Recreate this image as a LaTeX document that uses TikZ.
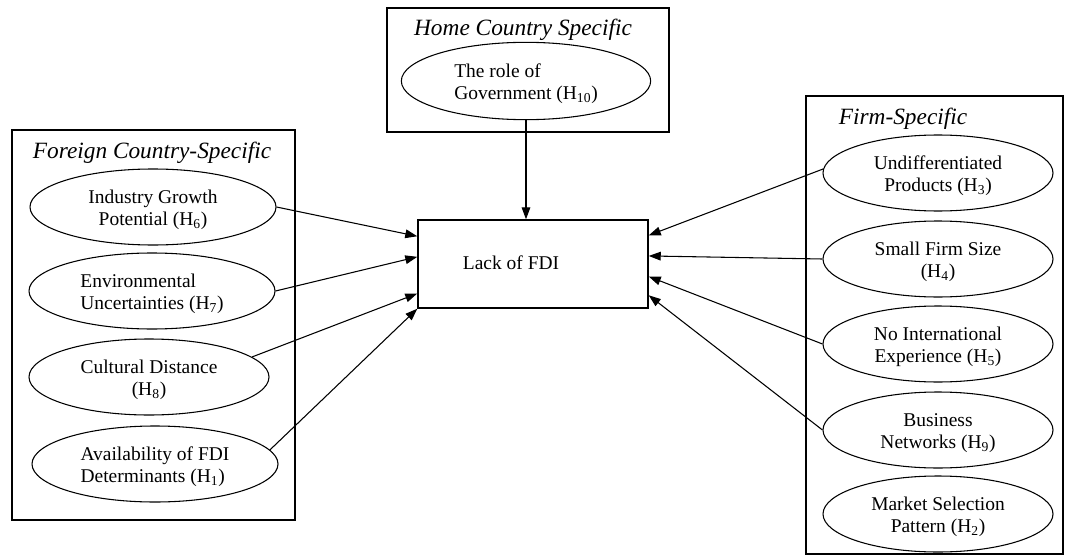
\documentclass[tikz,border=0pt]{standalone}
\usepackage{fontspec}
\setmainfont{Liberation Serif}
\usetikzlibrary{shapes.geometric,arrows.meta,calc}
\begin{document}
\begin{tikzpicture}[x=0.75pt,y=-0.75pt,
  group/.style={draw,line width=1.1pt,inner sep=0pt},
  factor/.style={draw,ellipse,line width=0.8pt,inner sep=0pt,align=center,
    minimum width=184.5pt,minimum height=57pt,
    font=\fontsize{14.6}{16.5}\selectfont,
    execute at begin node={\rule{0pt}{31pt}}},
  rfactor/.style={factor,minimum width=172.5pt},
  heading/.style={font=\fontsize{17.5}{20}\selectfont\itshape,inner sep=0pt},
  link/.style={line width=0.8pt,-{Triangle[length=9pt,width=6.5pt]}}]
\useasboundingbox (0,0) rectangle (1066,556);

% group frames
\node[group,minimum width=211.5pt,minimum height=93pt] (homebox) at (528,70) {};
\node[group,minimum width=212.25pt,minimum height=292.5pt] (foreignbox) at (153.5,325) {};
\node[group,minimum width=192.75pt,minimum height=343.5pt] (firmbox) at (934.5,325) {};

% group headings
\node[heading] (homehead) at (523,30) {Home Country Specific};
\node[heading] (foreignhead) at (152,153) {Foreign Country-Specific};
\node[heading] (firmhead) at (903,119) {Firm-Specific};

% central construct
\node[group,minimum width=172.5pt,minimum height=66pt] (fdi) at (533,264) {};
\node[font=\fontsize{14.6}{16.5}\selectfont] (fdilabel) at (511,263) {Lack of FDI};

% home country factor
\node[factor,align=left,minimum width=187pt,minimum height=58pt] (gov) at (526,81)
  {The role of\\Government (H\textsubscript{10})};

% foreign country factors
\node[factor] (l1) at (153,207) {Industry Growth\\Potential (H\textsubscript{6})};
\node[factor,align=left] (l2) at (152,291) {Environmental\\Uncertainties (H\textsubscript{7})};
\node[factor,minimum width=180pt] (l3) at (149,377) {Cultural Distance\\(H\textsubscript{8})};
\node[factor,align=left] (l4) at (155,464) {Availability of FDI\\Determinants (H\textsubscript{1})};

% firm-specific factors
\node[rfactor] (r1) at (938,173) {Undifferentiated\\Products (H\textsubscript{3})};
\node[rfactor] (r2) at (938,259) {Small Firm Size\\(H\textsubscript{4})};
\node[rfactor] (r3) at (938,344) {No International\\Experience (H\textsubscript{5})};
\node[rfactor] (r4) at (938,430) {Business\\Networks (H\textsubscript{9})};
\node[rfactor] (r5) at (938,514) {Market Selection\\Pattern (H\textsubscript{2})};

% influences on the central construct
\draw[link] (gov.south) -- (gov.south |- fdi.north);

\draw[link] (l1.east) -- ($(fdi.north west)!0.19!(fdi.south west)$);
\draw[link] (l2.east) -- ($(fdi.north west)!0.42!(fdi.south west)$);
\draw[link] (l3.11) -- ($(fdi.north west)!0.83!(fdi.south west)$);
\draw[link] (l4.7) -- ($(fdi.north west)!1.0!(fdi.south west)$);

\draw[link] (r1.178) -- ($(fdi.north east)!0.18!(fdi.south east)$);
\draw[link] (r2.west) -- ($(fdi.north east)!0.41!(fdi.south east)$);
\draw[link] (r3.west) -- ($(fdi.north east)!0.64!(fdi.south east)$);
\draw[link] (r4.west) -- ($(fdi.north east)!0.85!(fdi.south east)$);
\end{tikzpicture}
\end{document}
